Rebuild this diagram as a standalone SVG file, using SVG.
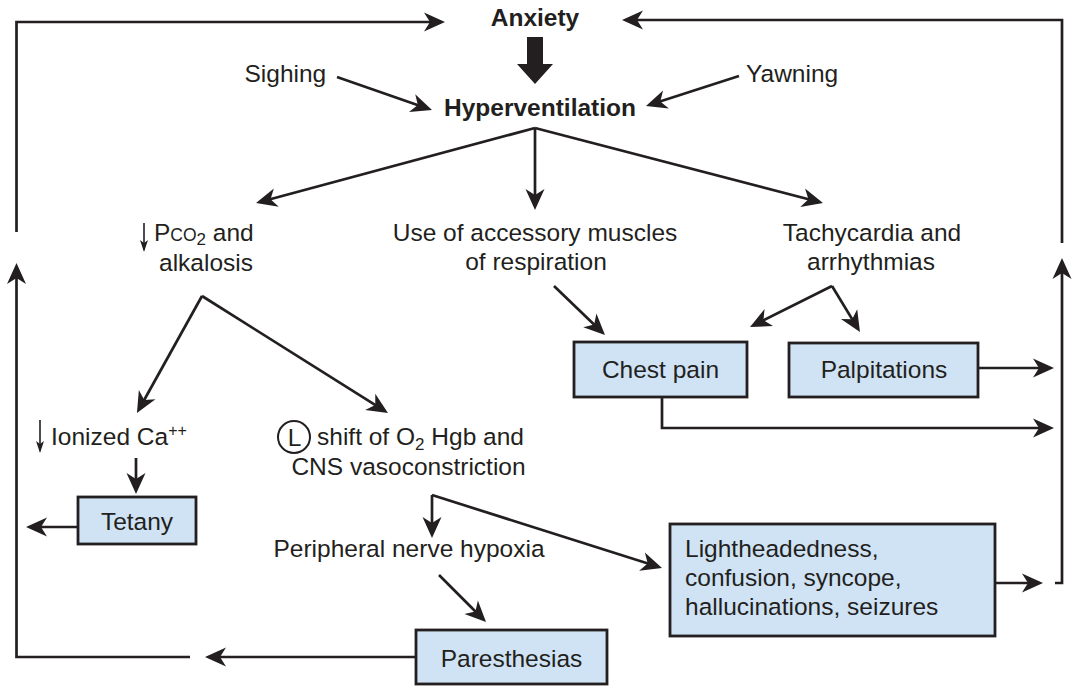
<svg xmlns="http://www.w3.org/2000/svg" width="1075" height="686" viewBox="0 0 1075 686">
<style>
text{font-family:"Liberation Sans",Arial,Helvetica,sans-serif;font-size:24.5px;fill:#231f20}
.b{font-weight:bold}
.m{text-anchor:middle}
.box{fill:#cfe3f5;stroke:#231f20;stroke-width:2.8}
.ln{fill:none;stroke:#231f20;stroke-width:2.7}
.a{marker-end:url(#ah)}
.thin{fill:none;stroke:#231f20;stroke-width:1.6;marker-end:url(#sh)}
</style>
<defs>
<marker id="ah" markerUnits="userSpaceOnUse" orient="auto" refX="0" refY="0" markerWidth="30" markerHeight="30" overflow="visible">
<path d="M4,0 L-17,-9.5 L-11,0 L-17,9.5 Z" fill="#231f20"/>
</marker>
<marker id="sh" markerUnits="userSpaceOnUse" orient="auto" refX="0" refY="0" markerWidth="14" markerHeight="10" overflow="visible">
<path d="M2,0 L-10,-4 L-7,0 L-10,4 Z" fill="#231f20"/>
</marker>
</defs>
<rect width="1075" height="686" fill="#ffffff"/>

<g id="connectors">
<polyline class="ln a" points="16.5,232 16.5,22 441,22"/>
<polyline class="ln a" points="190,657 16.5,657 16.5,267"/>
<polyline class="ln a" points="1062,243 1062,20 626,20"/>
<polyline class="ln a" points="1055,583 1062,583 1062,262"/>
<line class="ln a" x1="337" y1="77" x2="428.2" y2="108.7"/>
<line class="ln a" x1="739" y1="76" x2="649.8" y2="104.8"/>
<polygon points="527,37 543,37 543,64 553,64 535,84 517,64 527,64" fill="#231f20"/>
<line class="ln a" x1="535" y1="128" x2="259.9" y2="202"/>
<line class="ln a" x1="535" y1="128" x2="535" y2="206"/>
<line class="ln a" x1="535" y1="128" x2="819.1" y2="202"/>
<line class="ln a" x1="202" y1="296" x2="138.9" y2="409.5"/>
<line class="ln a" x1="202" y1="296" x2="384.6" y2="410.9"/>
<line class="ln a" x1="554" y1="286" x2="602.1" y2="332.2"/>
<line class="ln a" x1="832" y1="286" x2="753.6" y2="325.2"/>
<line class="ln a" x1="832" y1="286" x2="857.9" y2="328.6"/>
<line class="ln a" x1="978" y1="368" x2="1050" y2="368"/>
<polyline class="ln a" points="662,397 662,428 1050,428"/>
<line class="thin" x1="144" y1="223" x2="144" y2="250"/>
<line class="thin" x1="40" y1="420" x2="40" y2="451"/>
<line class="ln a" x1="136" y1="458" x2="136" y2="490"/>
<line class="ln a" x1="78" y1="527" x2="30" y2="527"/>
<line class="ln a" x1="432" y1="495" x2="432" y2="534"/>
<line class="ln a" x1="432" y1="495" x2="658.2" y2="566.8"/>
<line class="ln a" x1="439" y1="575" x2="483.2" y2="619.2"/>
<line class="ln a" x1="416" y1="657" x2="209" y2="657"/>
<line class="ln a" x1="995" y1="583" x2="1039" y2="583"/>
</g>

<g id="anxiety"><text class="b m" x="535" y="26">Anxiety</text></g>
<g id="hyperventilation"><text class="b m" x="540" y="116">Hyperventilation</text></g>
<g id="sighing"><text x="244.5" y="82">Sighing</text></g>
<g id="yawning"><text x="746" y="82">Yawning</text></g>
<g id="pco2">
<text x="154" y="241">P<tspan font-size="17.5">CO</tspan><tspan font-size="17" dy="4">2</tspan><tspan dy="-4"> and</tspan></text>
<text class="m" x="206" y="271">alkalosis</text>
</g>
<g id="accessory">
<text class="m" x="535" y="241">Use of accessory muscles</text>
<text class="m" x="536" y="270">of respiration</text>
</g>
<g id="tachycardia">
<text class="m" x="872" y="241">Tachycardia and</text>
<text class="m" x="871" y="270">arrhythmias</text>
</g>
<g id="chest-pain">
<rect class="box" x="574" y="342" width="173" height="55"/>
<text class="m" x="660.5" y="378">Chest pain</text>
</g>
<g id="palpitations">
<rect class="box" x="789" y="343" width="189" height="54"/>
<text class="m" x="884" y="378">Palpitations</text>
</g>
<g id="ionized-ca">
<text x="51" y="445">Ionized Ca<tspan font-size="16" dy="-9">++</tspan></text>
</g>
<g id="l-shift">
<circle cx="294" cy="437" r="16" fill="none" stroke="#231f20" stroke-width="2"/>
<text class="m" x="294.5" y="445.5">L</text>
<text x="317" y="445">shift of O<tspan font-size="17" dy="5">2</tspan><tspan dy="-5"> Hgb and</tspan></text>
<text class="m" x="408.5" y="475">CNS vasoconstriction</text>
</g>
<g id="tetany">
<rect class="box" x="78" y="497" width="118" height="47"/>
<text class="m" x="137" y="530">Tetany</text>
</g>
<g id="peripheral"><text class="m" x="409" y="557">Peripheral nerve hypoxia</text></g>
<g id="lightheadedness">
<rect class="box" x="670" y="524" width="325" height="112"/>
<text x="685" y="557">Lightheadedness,</text>
<text x="685" y="586">confusion, syncope,</text>
<text x="685" y="615">hallucinations, seizures</text>
</g>
<g id="paresthesias">
<rect class="box" x="416" y="630" width="191" height="54"/>
<text class="m" x="511.5" y="667">Paresthesias</text>
</g>
</svg>
